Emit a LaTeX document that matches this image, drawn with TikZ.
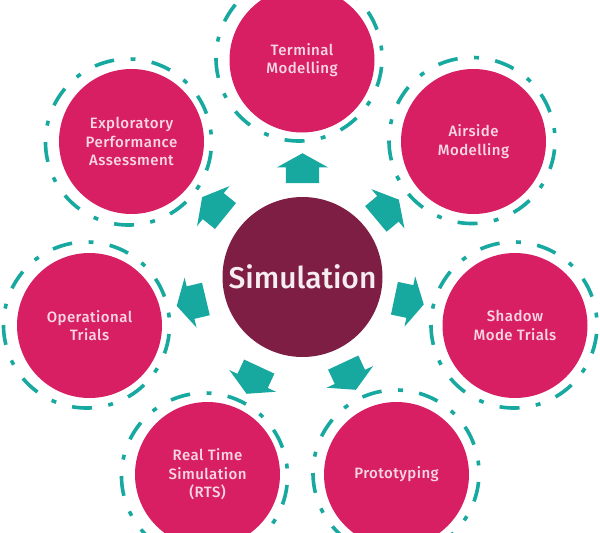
\documentclass[tikz,border=0pt]{standalone}
\usepackage{fontspec}
\setmainfont{Fira Sans Medium}
\usetikzlibrary{shapes.arrows}
\definecolor{crim}{HTML}{D81F63}
\definecolor{plum}{HTML}{7E1E44}
\definecolor{tealc}{HTML}{17A99F}
\tikzset{
 ball/.style={circle,fill=crim,minimum size=145pt,inner sep=0pt,text=white!82!crim,align=center,font=\fontsize{15}{18.6}\selectfont\addfontfeatures{LetterSpace=3}},
 hub/.style={circle,fill=plum,minimum size=160pt,inner sep=0pt,text=white!92!plum,font=\fontsize{30}{34}\selectfont},
 ring/.style={circle,draw=tealc,line width=3.6pt,minimum size=166pt,inner sep=0pt,rotate=20,dash pattern=on 20pt off 16.5pt on 4.9pt off 16.55pt},
 flow/.style={single arrow,fill=tealc,inner xsep=0pt,inner ysep=16.5pt,minimum width=51pt,minimum height=30pt,single arrow head extend=9pt,single arrow tip angle=122,anchor=tip}
}
\begin{document}
\begin{tikzpicture}[x=1pt,y=-1pt]
\useasboundingbox (0,0) rectangle (600,533);
\fill[white] (0,0) rectangle (600,533);
\clip (0,0) rectangle (600,533);
\node[ring] (r1) at (299,58) {};
\node[ring] (r2) at (472,140.5) {};
\node[ring] (r3) at (514,325) {};
\node[ring] (r4) at (396,473) {};
\node[ring] (r5) at (204.5,476) {};
\node[ring] (r6) at (86.5,325) {};
\node[ring] (r7) at (128.5,142) {};
\node[ball] (n1) at (302,60) {Terminal\\Modelling};
\node[ball] (n2) at (473.5,141.5) {Airside\\Modelling};
\node[ball] (n3) at (515,325.5) {Shadow\\Mode Trials};
\node[ball] (n4) at (396.5,474.5) {Prototyping};
\node[ball] (n5) at (207.5,474.5) {Real Time\\Simulation\\(RTS)};
\node[ball] (n6) at (89.5,325.5) {Operational\\Trials};
\node[ball] (n7) at (131.5,141.5) {Exploratory\\Performance\\Assessment};
\node[hub] (hub) at (302.5,277) {Simulation};
\node[flow,rotate=90] (a1) at (302.5,153) {};
\node[flow,rotate=40] (a2) at (399,199.5) {};
\node[flow,rotate=-12] (a3) at (424,304.5) {};
\node[flow,rotate=-65] (a4) at (356,390) {};
\node[flow,rotate=245] (a5) at (246.5,394) {};
\node[flow,rotate=193.5] (a6) at (176.5,306) {};
\node[flow,rotate=141] (a7) at (202,197) {};
\end{tikzpicture}
\end{document}
